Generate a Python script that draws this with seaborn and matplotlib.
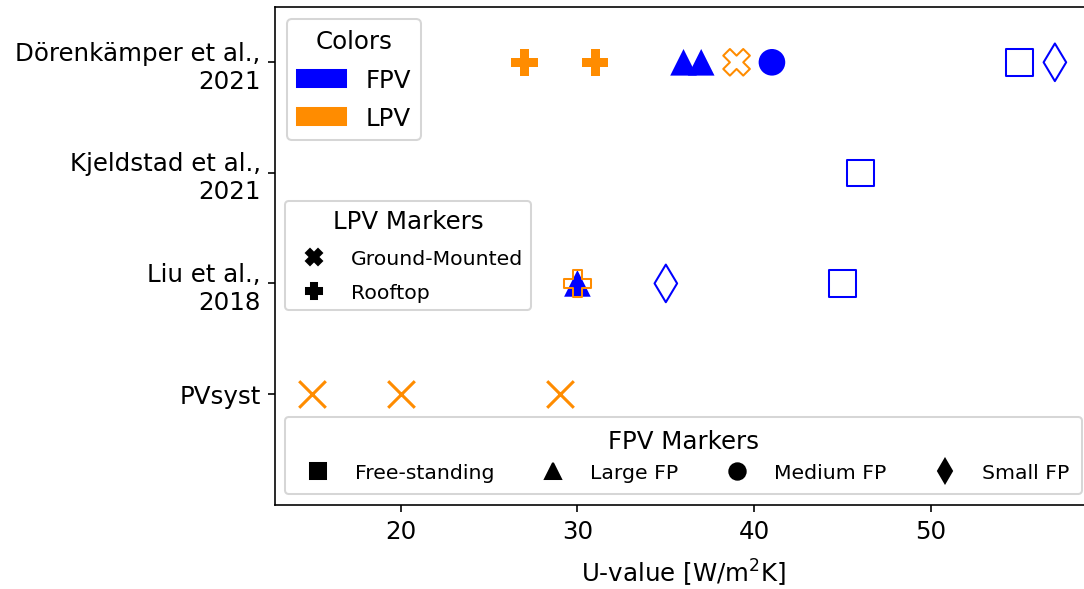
import pandas as pd
import numpy as np
import matplotlib.pyplot as plt
import seaborn as sns
from matplotlib.patches import Patch
from matplotlib.lines import Line2D

# Plot settings
plt.rcParams['font.family'] = ['DejaVu Sans']
DPI = 147

# Study labels, bottom to top
studies = ['PVsyst', 'Liu et al.,\n2018', 'Kjeldstad et al.,\n2021', 'Dörenkämper et al.,\n2021']

# Reported U-values (W/m2K) per point
point_study = ['Dörenkämper et al.,\n2021'] * 8 + ['Kjeldstad et al.,\n2021'] + ['Liu et al.,\n2018'] * 4 + ['PVsyst'] * 3
u_value = [27, 31, 36, 37, 39, 41, 55, 57, 46, 30, 30, 35, 45, 15, 20, 29]
tech = ['LPV', 'LPV', 'FPV', 'FPV', 'LPV', 'FPV', 'FPV', 'FPV', 'FPV', 'FPV', 'LPV', 'FPV', 'FPV', 'LPV', 'LPV', 'LPV']
system = ['Rooftop', 'Rooftop', 'Large FP', 'Large FP', 'Ground-Mounted', 'Medium FP', 'Free-standing', 'Small FP',
          'Free-standing', 'Large FP', 'Rooftop', 'Small FP', 'Free-standing', 'PVsyst', 'PVsyst', 'PVsyst']
hollow = [False, False, False, False, True, False, True, True, True, False, True, True, True, False, False, False]

colors = {'FPV': 'blue', 'LPV': 'darkorange'}
markers = {'Free-standing': 's', 'Large FP': '^', 'Medium FP': 'o', 'Small FP': 'd',
           'Ground-Mounted': 'X', 'Rooftop': 'P'}
fpv_types = ['Free-standing', 'Large FP', 'Medium FP', 'Small FP']
lpv_types = ['Ground-Mounted', 'Rooftop']

df = pd.DataFrame({'Study': point_study, 'U': u_value, 'Tech': tech, 'System': system, 'Hollow': hollow})
df['Study'] = pd.Categorical(df['Study'], categories=studies, ordered=True)

fig = plt.figure(figsize=(1084 / DPI, 590 / DPI), dpi=DPI)
ax = fig.add_axes([0.2537, 0.1432, 0.7537, 0.8432])

# Filled markers
filled = df[(~df['Hollow']) & (df['System'] != 'PVsyst')]
sns.scatterplot(data=filled, x='U', y='Study', hue='Tech', style='System', palette=colors,
                markers=markers, s=170, linewidth=0, legend=False, ax=ax)

# Open markers (edge only)
open_pts = df[df['Hollow']]
sns.scatterplot(data=open_pts, x='U', y='Study', hue='Tech', style='System', palette=colors,
                markers=markers, s=170, legend=False, ax=ax)
coll = ax.collections[-1]
fc = coll.get_facecolors()
coll.set_edgecolors(fc)
coll.set_facecolors('none')
coll.set_linewidths(1.0)

# PVsyst reference values
pvsyst = df[df['System'] == 'PVsyst']
sns.scatterplot(data=pvsyst, x='U', y='Study', marker='x', color='darkorange', s=170,
                linewidth=1.5, legend=False, ax=ax)

ax.set_ylim(-1, 3.5)
ax.set_xlabel('U-value [W/m$^2$K]', fontsize=12, labelpad=7)
ax.set_ylabel('')
ax.tick_params(labelsize=12)

# Legends
color_handles = [Patch(color=colors[k], label=k) for k in ['FPV', 'LPV']]
leg1 = ax.legend(handles=color_handles, title='Colors', loc='upper left', fontsize=12,
                 title_fontsize=12, labelspacing=0.6)
ax.add_artist(leg1)

lpv_handles = [Line2D([], [], marker=markers[k], color='black', linestyle='none', markersize=8, label=k)
               for k in lpv_types]
leg2 = ax.legend(handles=lpv_handles, title='LPV Markers', loc='center left', fontsize=10,
                 title_fontsize=12, labelspacing=0.75)
ax.add_artist(leg2)

fpv_handles = [Line2D([], [], marker=markers[k], color='black', linestyle='none', markersize=8, label=k)
               for k in fpv_types]
ax.legend(handles=fpv_handles, title='FPV Markers', loc='lower center', ncol=4, mode='expand',
          fontsize=10, title_fontsize=12, borderpad=0.6)

fig.savefig('out.png', dpi=DPI)
